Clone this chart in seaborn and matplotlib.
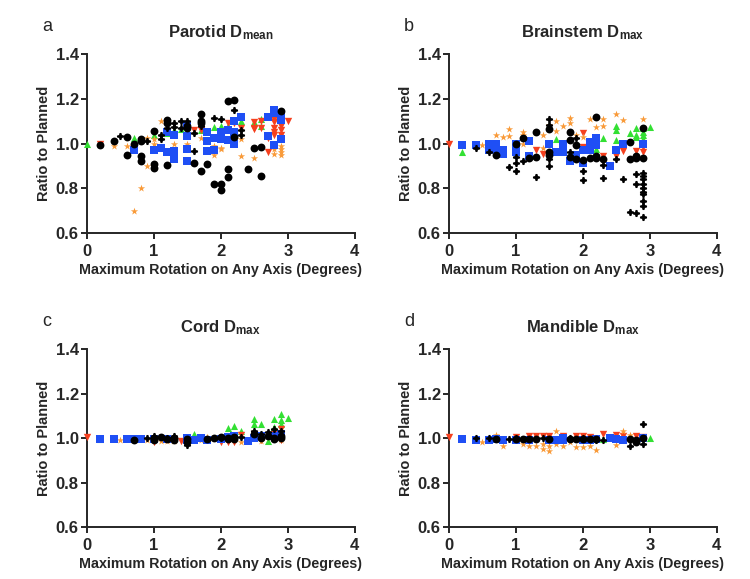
import numpy as np
import pandas as pd
import matplotlib
matplotlib.use("Agg")
import matplotlib.pyplot as plt
import seaborn as sns

# ---------------- data ----------------
titles = ["Parotid D$_{mean}$", "Brainstem D$_{max}$", "Cord D$_{max}$", "Mandible D$_{max}$"]
letters = ["a", "b", "c", "d"]
xticks = [0, 1, 2, 3, 4]
yticks = [0.6, 0.8, 1.0, 1.2, 1.4]

# Panel a: Parotid Dmean
a_circle_x = [0.2, 0.4, 0.6, 0.6, 0.7, 0.8, 0.8, 0.8, 0.8, 1.0, 1.0, 1.0, 1.2, 1.2, 1.2, 1.5, 1.5, 1.6, 1.7, 1.7, 1.7, 1.7, 1.8, 1.9, 2.0, 2.0, 2.1, 2.1, 2.1, 2.2, 2.2, 2.4, 2.5, 2.6, 2.6, 2.9]
a_circle_y = [0.995, 1.01, 1.03, 0.95, 1.0, 1.02, 1.01, 0.945, 0.92, 1.055, 0.91, 0.89, 1.105, 1.09, 0.905, 1.08, 1.07, 0.915, 1.13, 1.10, 1.09, 0.875, 0.91, 0.82, 0.82, 0.79, 1.19, 0.885, 0.85, 1.195, 1.03, 0.885, 0.98, 0.855, 0.985, 1.145]
a_plus_x = [0.5, 0.9, 1.1, 1.1, 1.2, 1.3, 1.3, 1.4, 1.4, 1.5, 1.6, 1.6, 1.7, 1.9, 2.0, 2.2, 2.3, 2.3]
a_plus_y = [1.035, 1.01, 1.04, 1.02, 1.07, 1.09, 1.075, 1.10, 1.07, 1.10, 0.965, 1.045, 1.08, 1.115, 1.11, 1.15, 1.06, 1.04]
a_square_x = [0.7, 1.0, 1.1, 1.2, 1.2, 1.3, 1.3, 1.3, 1.5, 1.5, 1.5, 1.5, 1.8, 1.8, 1.8, 1.9, 1.9, 2.0, 2.0, 2.1, 2.1, 2.2, 2.2, 2.2, 2.3, 2.7, 2.7, 2.8, 2.8, 2.8, 2.9, 2.9, 2.9]
a_square_y = [0.97, 0.97, 0.98, 0.96, 1.05, 0.965, 0.93, 1.04, 1.085, 1.035, 0.975, 0.92, 1.05, 1.01, 0.965, 1.025, 0.97, 1.02, 1.05, 1.06, 1.015, 1.10, 1.05, 1.0, 1.12, 1.12, 1.035, 1.15, 1.135, 0.995, 1.12, 1.105, 1.02]
a_up_x = [0.0, 0.7, 1.0, 1.2, 1.3, 1.4, 1.5, 1.7, 1.9, 2.0, 2.0, 2.1, 2.3, 2.5, 2.6, 2.6]
a_up_y = [1.0, 1.025, 1.04, 1.045, 1.06, 1.065, 1.06, 1.06, 1.075, 1.08, 1.05, 1.08, 1.10, 1.095, 1.11, 1.08]
a_down_x = [0.2, 1.6, 1.7, 2.1, 2.2, 2.3, 2.5, 2.5, 2.5, 2.6, 2.6, 2.7, 2.7, 2.8, 2.8, 2.8, 2.8, 2.8, 2.9, 2.9, 2.9, 2.9, 3.0]
a_down_y = [1.0, 1.06, 1.06, 1.09, 1.09, 1.07, 1.095, 1.07, 1.065, 1.10, 1.07, 0.96, 1.025, 1.11, 1.095, 1.07, 1.05, 1.04, 1.10, 1.08, 1.06, 1.04, 1.10]
a_star_x = [0.4, 0.6, 0.7, 0.8, 0.9, 0.9, 1.0, 1.0, 1.0, 1.1, 1.3, 1.5, 1.7, 1.8, 1.9, 1.9, 2.0, 2.0, 2.3, 2.3, 2.5, 2.8, 2.8, 2.9, 2.9, 2.9, 2.9]
a_star_y = [0.99, 0.99, 0.70, 0.80, 0.90, 1.025, 1.02, 1.0, 0.985, 1.10, 1.0, 1.0, 1.025, 0.97, 0.99, 0.95, 0.975, 0.98, 1.02, 0.945, 0.935, 0.955, 0.975, 0.99, 0.975, 0.96, 0.95]

# Panel b: Brainstem Dmax
b_circle_x = [0.7, 1.0, 1.1, 1.2, 1.3, 1.3, 1.5, 1.5, 1.5, 1.8, 1.8, 1.8, 1.9, 1.9, 2.0, 2.1, 2.2, 2.2, 2.2, 2.3, 2.7, 2.7, 2.8, 2.8, 2.9, 2.9]
b_circle_y = [0.95, 1.0, 1.025, 0.935, 1.05, 0.94, 1.065, 0.96, 0.95, 1.05, 1.015, 0.94, 0.995, 0.93, 0.925, 0.935, 1.12, 0.945, 0.935, 0.93, 1.005, 0.93, 0.945, 0.935, 1.07, 0.935]
b_plus_x = [0.4, 0.6, 0.9, 1.0, 1.0, 1.0, 1.1, 1.3, 1.5, 1.5, 1.5, 1.5, 1.8, 1.9, 1.9, 2.0, 2.0, 2.3, 2.3, 2.5, 2.6, 2.7, 2.8, 2.8, 2.8, 2.9, 2.9, 2.9, 2.9, 2.9, 2.9, 2.9, 2.9, 2.9, 2.9]
b_plus_y = [0.98, 0.96, 0.895, 0.94, 0.915, 0.875, 0.92, 0.85, 1.11, 1.085, 0.93, 0.90, 0.96, 1.025, 0.93, 0.875, 0.835, 0.905, 0.845, 0.93, 0.84, 0.695, 0.69, 0.865, 0.82, 0.87, 0.855, 0.84, 0.82, 0.80, 0.785, 0.775, 0.745, 0.72, 0.67]
b_square_x = [0.2, 0.4, 0.6, 0.6, 0.7, 0.7, 0.8, 0.8, 1.0, 1.0, 1.0, 1.2, 1.2, 1.5, 1.6, 1.7, 1.7, 1.8, 1.9, 2.0, 2.0, 2.1, 2.1, 2.2, 2.2, 2.4, 2.5, 2.6, 2.9]
b_square_y = [0.995, 0.995, 1.0, 0.97, 1.0, 0.975, 0.97, 0.955, 1.0, 0.97, 0.96, 1.01, 0.945, 1.0, 0.96, 1.0, 0.96, 0.92, 0.95, 0.97, 0.915, 1.005, 0.97, 1.025, 0.995, 0.90, 0.97, 1.0, 1.0]
b_up_x = [0.2, 1.6, 1.7, 2.2, 2.3, 2.5, 2.5, 2.5, 2.7, 2.8, 2.8, 2.8, 2.9, 2.9, 2.9, 2.9, 3.0]
b_up_y = [0.96, 1.02, 0.985, 0.975, 1.025, 1.08, 1.06, 1.015, 1.045, 1.07, 1.04, 1.03, 1.07, 1.05, 1.04, 1.02, 1.075]
b_down_x = [0.0, 1.3, 1.4, 2.0, 2.0, 2.1, 2.2, 2.3, 2.5, 2.6, 2.6, 2.8, 2.9, 2.9]
b_down_y = [1.0, 0.97, 0.955, 1.045, 0.985, 0.985, 1.005, 0.945, 0.945, 0.975, 0.965, 0.965, 0.985, 0.96]
b_star_x = [0.5, 0.7, 0.8, 0.9, 0.9, 1.1, 1.1, 1.1, 1.4, 1.4, 1.5, 1.6, 1.6, 1.7, 1.8, 1.8, 1.9, 2.0, 2.1, 2.2, 2.3, 2.3, 2.5, 2.6, 2.9]
b_star_y = [0.995, 1.04, 1.03, 1.065, 1.035, 1.05, 1.04, 1.0, 1.04, 0.98, 1.085, 1.10, 1.055, 1.08, 1.115, 1.09, 1.04, 1.03, 1.11, 1.075, 1.11, 1.08, 1.13, 1.105, 1.11]

# Panel c: Cord Dmax
c_circle_x = [0.7, 1.0, 1.0, 1.1, 1.2, 1.3, 1.3, 1.5, 1.5, 1.8, 1.9, 2.0, 2.1, 2.1, 2.2, 2.2, 2.5, 2.6, 2.7, 2.8, 2.8, 2.9, 2.9]
c_circle_y = [0.99, 1.0, 0.99, 1.005, 0.995, 0.99, 1.0, 0.98, 0.995, 0.995, 1.0, 1.005, 0.995, 1.0, 0.995, 1.005, 1.02, 1.0, 1.01, 1.0, 0.995, 1.0, 1.01]
c_plus_x = [0.9, 1.0, 1.2, 1.3, 1.5, 2.0, 2.3, 2.5, 2.6, 2.7, 2.8, 2.9]
c_plus_y = [0.998, 1.01, 1.0, 1.01, 0.97, 1.0, 1.005, 1.03, 1.02, 1.025, 1.04, 1.03]
c_square_x = [0.2, 0.4, 0.6, 0.7, 0.8, 1.0, 1.2, 1.5, 1.5, 1.6, 1.7, 1.8, 2.0, 2.1, 2.2, 2.4, 2.5, 2.6, 2.8, 2.9, 2.9]
c_square_y = [0.997, 0.997, 0.995, 0.995, 0.995, 0.995, 0.995, 0.99, 1.0, 0.99, 1.0, 0.99, 0.995, 1.005, 1.01, 0.988, 0.998, 1.01, 1.01, 1.015, 1.02]
c_up_x = [0.2, 1.6, 2.1, 2.2, 2.3, 2.5, 2.5, 2.6, 2.7, 2.8, 2.8, 2.9, 2.9, 2.9, 3.0]
c_up_y = [0.995, 1.02, 1.045, 1.055, 1.03, 1.085, 1.065, 1.065, 0.985, 1.085, 1.05, 1.11, 1.08, 1.065, 1.09]
c_down_x = [0.0, 0.7, 1.0, 1.4, 1.5, 2.0, 2.1, 2.2, 2.3, 2.5, 2.6, 2.8, 2.9, 2.9]
c_down_y = [1.005, 0.99, 0.98, 0.985, 1.0, 0.98, 0.98, 0.98, 1.015, 1.02, 0.99, 1.02, 1.04, 0.99]
c_star_x = [0.5, 0.9, 1.1, 1.2, 1.3, 1.5, 1.7, 1.8, 2.0, 2.2, 2.3, 2.6, 2.8, 2.9]
c_star_y = [0.99, 0.99, 0.985, 0.985, 0.985, 0.99, 0.99, 1.005, 0.995, 0.99, 0.98, 0.985, 1.005, 0.99]

# Panel d: Mandible Dmax
d_circle_x = [0.7, 1.0, 1.1, 1.2, 1.3, 1.5, 1.8, 1.9, 2.0, 2.1, 2.2, 2.7, 2.8, 2.8, 2.9]
d_circle_y = [0.995, 0.995, 0.995, 0.995, 0.995, 0.995, 0.995, 0.995, 0.995, 0.995, 0.995, 0.995, 0.99, 0.98, 1.0]
d_plus_x = [0.4, 0.6, 0.9, 1.0, 1.4, 1.5, 1.8, 2.0, 2.2, 2.3, 2.7, 2.8, 2.9, 2.9]
d_plus_y = [1.0, 1.0, 0.995, 1.0, 1.0, 0.995, 1.0, 1.0, 0.99, 0.99, 0.965, 0.98, 1.065, 0.975]
d_square_x = [0.2, 0.4, 0.6, 0.7, 0.8, 1.0, 1.2, 1.5, 1.6, 1.7, 1.7, 2.0, 2.1, 2.2, 2.4, 2.5, 2.6, 2.9]
d_square_y = [0.995, 0.99, 0.99, 0.995, 0.99, 0.99, 0.99, 0.99, 0.99, 0.99, 1.0, 0.99, 0.99, 0.995, 1.0, 0.995, 0.99, 1.0]
d_up_x = [2.3, 3.0]
d_up_y = [0.995, 0.998]
d_down_x = [0.0, 1.0, 1.2, 1.3, 1.4, 1.5, 1.7, 1.9, 2.0, 2.1, 2.3, 2.5, 2.6, 2.8, 2.9]
d_down_y = [1.005, 1.005, 1.01, 1.01, 1.008, 1.01, 1.008, 1.01, 1.008, 1.005, 1.02, 1.015, 1.01, 1.01, 1.005]
d_star_x = [0.5, 0.7, 0.8, 1.1, 1.2, 1.3, 1.4, 1.4, 1.5, 1.5, 1.6, 1.6, 1.7, 1.8, 1.9, 2.0, 2.1, 2.2, 2.5, 2.6, 2.7]
d_star_y = [0.98, 1.015, 0.965, 0.975, 0.965, 0.965, 0.95, 0.975, 0.94, 0.965, 1.03, 0.975, 0.965, 0.98, 0.96, 0.96, 0.965, 0.945, 0.97, 1.03, 1.015]

groups = ["up", "down", "star", "square", "circle", "plus"]

panels = {
    "a": {"circle": (a_circle_x, a_circle_y), "plus": (a_plus_x, a_plus_y), "square": (a_square_x, a_square_y),
          "up": (a_up_x, a_up_y), "down": (a_down_x, a_down_y), "star": (a_star_x, a_star_y)},
    "b": {"circle": (b_circle_x, b_circle_y), "plus": (b_plus_x, b_plus_y), "square": (b_square_x, b_square_y),
          "up": (b_up_x, b_up_y), "down": (b_down_x, b_down_y), "star": (b_star_x, b_star_y)},
    "c": {"circle": (c_circle_x, c_circle_y), "plus": (c_plus_x, c_plus_y), "square": (c_square_x, c_square_y),
          "up": (c_up_x, c_up_y), "down": (c_down_x, c_down_y), "star": (c_star_x, c_star_y)},
    "d": {"circle": (d_circle_x, d_circle_y), "plus": (d_plus_x, d_plus_y), "square": (d_square_x, d_square_y),
          "up": (d_up_x, d_up_y), "down": (d_down_x, d_down_y), "star": (d_star_x, d_star_y)},
}

# ---------------- style ----------------
sns.set_theme(style="ticks")
plt.rcParams["font.family"] = ["Liberation Sans", "DejaVu Sans"]
plt.rcParams["mathtext.fontset"] = "custom"
plt.rcParams["mathtext.rm"] = "Liberation Sans:bold"
plt.rcParams["mathtext.it"] = "Liberation Sans:bold"
plt.rcParams["mathtext.bf"] = "Liberation Sans:bold"
plt.rcParams["mathtext.default"] = "rm"

# chunky four-pointed cross marker
cross_verts = [(1, 0.25), (0.42, 0.42), (0.25, 1), (-0.25, 1), (-0.42, 0.42), (-1, 0.25),
               (-1, -0.25), (-0.42, -0.42), (-0.25, -1), (0.25, -1), (0.42, -0.42), (1, -0.25), (1, 0.25)]

palette = {"circle": "#000000", "plus": "#000000", "square": "#1f4ff5",
           "up": "#33e033", "down": "#f5401e", "star": "#f99a38"}
markers = {"circle": "o", "plus": cross_verts, "square": "s",
           "up": "^", "down": "v", "star": "*"}
sizes = {"circle": 32, "plus": 26, "square": 34, "up": 26, "down": 28, "star": 30}

fig = plt.figure(figsize=(7.5, 5.79), dpi=100)
positions = {"a": [0.116, 0.5976, 0.357, 0.309], "b": [0.5987, 0.5976, 0.357, 0.309],
             "c": [0.116, 0.0898, 0.357, 0.3074], "d": [0.5987, 0.0898, 0.357, 0.3074]}

for key, title in zip(letters, titles):
    ax = fig.add_axes(positions[key])
    rows = []
    for g in groups:
        xs, ys = panels[key][g]
        for xv, yv in zip(xs, ys):
            rows.append({"x": xv, "y": yv, "group": g})
    df = pd.DataFrame(rows)
    for g in groups:
        sub = df[df["group"] == g]
        sns.scatterplot(data=sub, x="x", y="y", ax=ax, color=palette[g], marker=markers[g],
                        s=sizes[g], linewidth=0, legend=False, clip_on=False, zorder=3)
    ax.set_xlim(0, 4)
    ax.set_ylim(0.6, 1.4)
    ax.set_xticks(xticks)
    ax.set_yticks(yticks)
    ax.set_xticklabels([str(t) for t in xticks], fontweight="bold", fontsize=12)
    ax.set_yticklabels([f"{t:.1f}" for t in yticks], fontweight="bold", fontsize=12)
    ax.set_xlabel("Maximum Rotation on Any Axis (Degrees)", fontweight="bold", fontsize=10.3, labelpad=3)
    ax.set_ylabel("Ratio to Planned", fontweight="bold", fontsize=10.5, labelpad=3)
    ax.set_title(title, fontweight="bold", fontsize=12, pad=12)
    for s in ["top", "right"]:
        ax.spines[s].set_visible(False)
    for s in ["left", "bottom"]:
        ax.spines[s].set_linewidth(1.4)
    ax.tick_params(width=1.4, length=4, direction="out")
    ax.tick_params(axis="x", pad=4)
    ax.tick_params(axis="y", pad=2)
    ax.text(-0.168, 1.155, key, transform=ax.transAxes, fontsize=13, ha="left", va="center")

fig.savefig("out.png", dpi=100)
